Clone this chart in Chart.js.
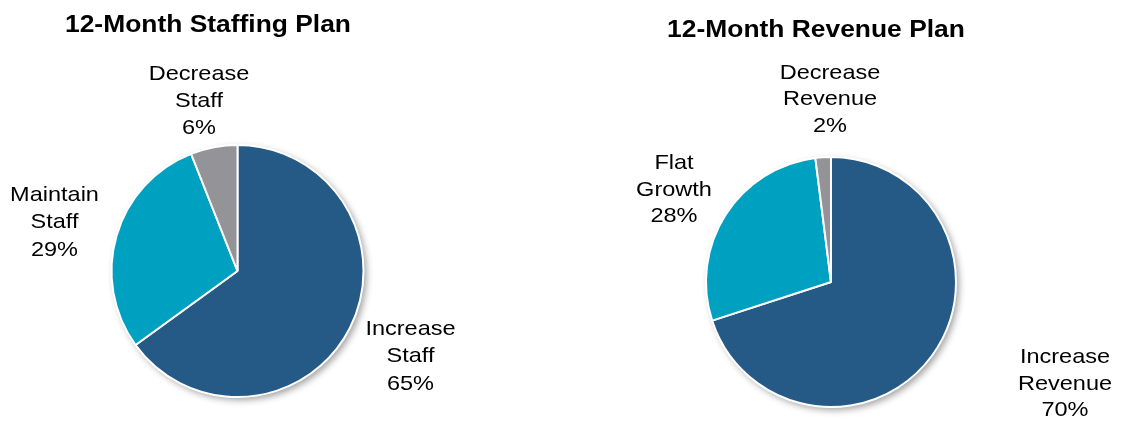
<!DOCTYPE html>
<html>
<head>
<meta charset="utf-8">
<script src="https://cdn.jsdelivr.net/npm/chart.js@4/dist/chart.umd.min.js"></script>
<style>
  html, body { margin: 0; padding: 0; background: #fff; overflow: hidden; }
  .panel { position: absolute; top: 0; height: 422px; }
</style>
</head>
<body>
<div class="panel" style="left:0;width:561px"><canvas id="staffing" width="561" height="422"></canvas></div>
<div class="panel" style="left:561px;width:562px"><canvas id="revenue" width="562" height="422"></canvas></div>
<script>
// Survey results (percent of respondents)
const staffingCategories = ['Increase Staff', 'Maintain Staff', 'Decrease Staff'];
const staffingValues = [65, 29, 6];
const revenueCategories = ['Increase Revenue', 'Flat Growth', 'Decrease Revenue'];
const revenueValues = [70, 28, 2];
const sliceColors = ['#255A86', '#00A0C0', '#939398'];

const FONT = '"Liberation Sans", Arial, Helvetica, sans-serif';

// Draws text slightly widened horizontally
function drawText(ctx, text, x, y, font, stretch) {
  ctx.save();
  ctx.font = font;
  ctx.fillStyle = '#000';
  ctx.textAlign = 'center';
  ctx.textBaseline = 'alphabetic';
  ctx.translate(x, y);
  ctx.scale(stretch, 1);
  ctx.fillText(text, 0, 0);
  ctx.restore();
}

// Drop shadow under the pie, title and multi-line slice labels
const pieDecor = {
  id: 'pieDecor',
  beforeDatasetsDraw(chart) {
    const arc = chart.getDatasetMeta(0).data[0];
    const ctx = chart.ctx;
    ctx.save();
    ctx.shadowColor = 'rgba(0,0,0,0.38)';
    ctx.shadowBlur = 7;
    ctx.shadowOffsetX = 3;
    ctx.shadowOffsetY = 3;
    ctx.fillStyle = '#fff';
    ctx.beginPath();
    ctx.arc(arc.x, arc.y, arc.outerRadius, 0, Math.PI * 2);
    ctx.fill();
    ctx.restore();
  },
  afterDatasetsDraw(chart, args, opts) {
    const ctx = chart.ctx;
    const arc = chart.getDatasetMeta(0).data[0];
    drawText(ctx, opts.title, opts.titleX, opts.titleY, 'bold 24px ' + FONT, 1.1);
    const values = chart.data.datasets[0].data;
    chart.data.labels.forEach((label, i) => {
      const lines = label.split(' ').concat([values[i] + '%']);
      const [dx, dy] = opts.labelOffsets[i];
      lines.forEach((t, k) => {
        drawText(ctx, t, arc.x + dx, arc.y + dy + 7.5 + k * opts.lineHeight, '21px ' + FONT, 1.12);
      });
    });
  }
};

function makePie(id, labels, values, radius, padding, decor) {
  return new Chart(document.getElementById(id), {
    type: 'pie',
    data: {
      labels: labels,
      datasets: [{
        data: values,
        backgroundColor: sliceColors,
        borderColor: '#ffffff',
        borderWidth: 2,
        hoverOffset: 0
      }]
    },
    options: {
      responsive: false,
      animation: false,
      events: [],
      radius: radius,
      layout: { padding: padding },
      plugins: {
        legend: { display: false },
        title: { display: false },
        tooltip: { enabled: false },
        pieDecor: decor
      }
    },
    plugins: [pieDecor]
  });
}

makePie('staffing', staffingCategories, staffingValues, 126,
  { left: 0, right: 86, top: 120, bottom: 0 },
  {
    title: '12-Month Staffing Plan', titleX: 208, titleY: 32,
    lineHeight: 27.3,
    labelOffsets: [[173, 56.5], [-183, -77.5], [-38.5, -199]]
  });

makePie('revenue', revenueCategories, revenueValues, 125,
  { left: 0, right: 22, top: 142, bottom: 0 },
  {
    title: '12-Month Revenue Plan', titleX: 255, titleY: 36.5,
    lineHeight: 26.6,
    labelOffsets: [[234, 73.5], [-157, -120.3], [-1, -211]]
  });
</script>
</body>
</html>
